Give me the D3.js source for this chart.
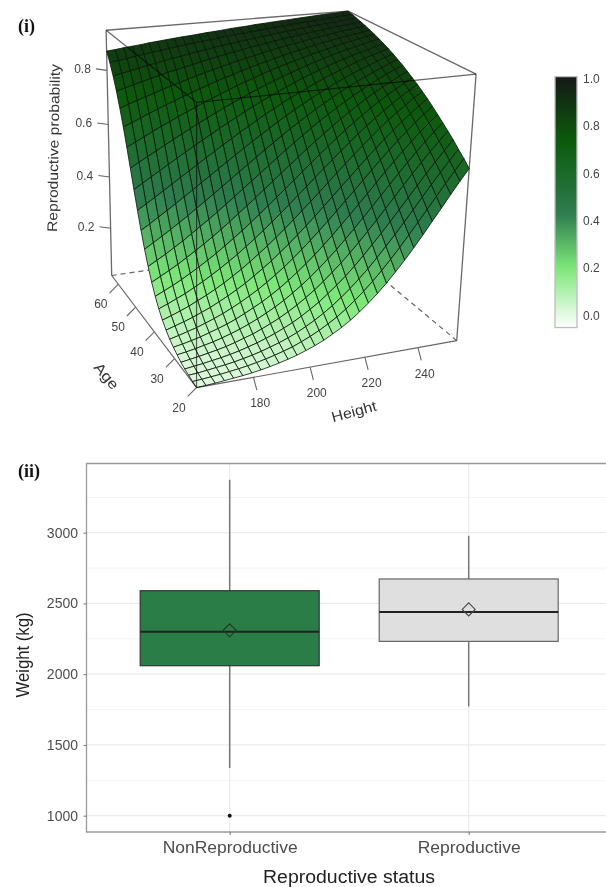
<!DOCTYPE html>
<html><head><meta charset="utf-8"><script src="https://cdn.jsdelivr.net/npm/d3@7"></script>
<style>html,body{margin:0;padding:0;background:#fff}svg{display:block}text{font-family:"Liberation Sans",Arial,sans-serif}</style></head>
<body><svg id="c" width="606" height="887"></svg>
<script>
// Reproductive probability x1000: one row per age node (young to old), one column per height node (short to tall).
// Estimated by eye from the reference surface's edges and colours (smooth fit), not read node by node.
const surfacePermille=[
[10,12,14,17,20,23,27,32,38,45,53,62,73,85,99,116,134,155,179,206,235,267,302,339,378,419,462,504,547,589,629],
[13,15,18,21,25,29,34,40,47,55,64,74,87,101,117,135,155,178,204,232,263,296,332,369,409,449,490,531,572,612,651],
[17,19,23,27,31,36,42,49,57,67,77,89,103,119,137,157,179,204,231,261,292,327,363,400,439,479,519,559,598,635,671],
[21,25,29,34,39,45,52,61,70,81,93,107,122,140,160,181,206,232,260,291,324,359,395,432,470,509,547,585,622,658,692],
[27,32,37,43,49,56,65,75,85,98,112,127,145,164,186,209,235,263,292,324,357,392,428,465,502,539,576,612,646,679,711],
[36,41,47,54,61,70,80,91,104,118,134,151,170,192,215,240,267,296,326,359,392,427,462,498,533,569,603,637,669,700,729],
[46,52,59,67,77,87,98,111,126,142,159,178,199,222,247,273,301,331,362,395,428,462,496,530,565,598,631,662,692,720,747],
[58,66,75,84,95,107,120,135,151,169,188,209,232,256,282,310,339,369,400,432,465,497,530,563,595,627,657,686,714,740,764],
[74,84,94,105,118,131,147,163,181,200,222,244,268,294,320,349,378,408,439,470,502,533,564,595,625,654,682,709,734,758,781],
[94,105,117,130,145,160,177,195,215,236,259,283,308,334,361,390,419,448,478,508,539,568,598,626,654,681,707,731,754,776,796],
[119,132,146,160,177,194,213,233,254,276,300,324,350,377,404,432,461,489,518,547,575,603,630,657,682,706,730,752,773,792,811],
[149,164,179,196,214,233,253,274,297,320,344,369,395,422,449,476,503,531,558,585,611,637,662,686,709,731,752,772,790,808,824],
[185,202,219,237,257,277,298,320,343,367,392,417,442,468,494,520,546,571,597,621,645,669,691,713,734,754,773,790,807,823,837],
[228,246,264,284,304,326,348,370,393,417,441,466,490,515,539,564,588,611,634,657,679,700,720,739,758,775,792,808,823,837,850],
[277,296,316,336,357,378,401,423,446,469,492,515,538,561,584,606,628,650,670,691,710,729,747,764,780,796,810,824,837,850,861],
[332,351,372,392,413,434,456,478,499,521,543,564,586,607,627,647,667,686,705,722,740,756,772,787,801,815,827,839,851,862,872],
[392,411,431,451,472,492,512,533,553,573,593,612,632,650,669,687,704,721,737,752,767,781,795,808,820,832,843,854,864,873,882],
[455,474,493,512,531,550,569,587,605,623,641,658,675,692,708,723,738,753,766,780,793,805,816,828,838,848,858,867,875,883,891],
[520,538,555,572,589,606,623,639,656,671,687,702,716,730,744,757,770,782,794,805,816,826,836,846,855,863,871,879,886,893,900],
[584,600,615,631,646,660,675,689,702,716,729,741,754,766,777,788,799,809,819,828,837,846,854,862,869,877,884,890,896,902,908],
[646,659,672,685,698,710,722,734,745,756,767,778,788,797,807,816,825,833,841,849,856,863,870,877,883,889,895,900,905,910,915],
[703,714,725,735,745,756,765,775,784,793,802,810,818,826,834,841,848,855,861,868,874,879,885,890,896,900,905,910,914,918,922],
[754,763,771,780,788,796,804,811,818,825,832,839,845,851,857,863,869,874,879,884,889,894,898,903,907,911,915,918,922,925,928],
[799,806,812,819,825,831,837,843,848,854,859,864,869,874,878,883,887,891,895,899,903,907,910,914,917,920,923,926,929,932,934],
[838,842,847,852,857,861,865,870,874,878,882,886,889,893,896,900,903,906,909,912,915,918,921,923,926,928,931,933,935,938,940],
[870,873,877,880,883,887,890,893,896,899,901,904,907,909,912,915,917,919,922,924,926,928,930,932,934,936,938,940,941,943,945]
];
const heightTicks=[180,200,220,240],ageTicks=[20,30,40,50,60],probTicks=[0.2,0.4,0.6,0.8],legendTicks=[0,0.2,0.4,0.6,0.8,1];
const heightDomain=[160.5,255],ageDomain=[20,64],probDomain=[0.01,0.945];
const statusNames=["NonReproductive","Reproductive"];
const q1=[2060,2232],q3=[2590,2673],medians=[2300,2440],means=[2310,2458],whiskerLow=[1337,1772],whiskerHigh=[3375,2978],outliers=[1000];
const weightTicks=[1000,1500,2000,2500,3000],weightMinor=[1250,1750,2250,2750,3250];
const colorStops=[-0.05,0.2,0.43,0.74,1.01],colorValues=["#ffffff","#7ee87a","#2e7d4f","#0c5a0c","#151816"];

const svg=d3.select("#c");
const R=surfacePermille.length,C=surfacePermille[0].length;
const surface=surfacePermille.map(r=>r.map(v=>v/1000));
const sx=d3.scaleLinear(heightDomain,[0,1]),sy=d3.scaleLinear(ageDomain,[0,1]),sz=d3.scaleLinear(probDomain,[0,1]);
const ni=d3.scaleLinear([0,C-1],[0,1]),nj=d3.scaleLinear([0,R-1],[0,1]);
const color=d3.scaleLinear(colorStops,colorValues);
const cube=[[0,0,0,196,388],[1,0,0,457,340],[0,1,0,112,275],[1,1,0,339,243],[0,0,1,197,103],[1,0,1,476,74],[0,1,1,106,30],[1,1,1,348,11]];
function solve(){const A=[],b=[];cube.forEach(([x,y,z,u,v])=>{A.push([x,y,z,1,0,0,0,0,-u*x,-u*y,-u*z]);b.push(u);A.push([0,0,0,0,x,y,z,1,-v*x,-v*y,-v*z]);b.push(v);});
 const n=11,M=d3.range(n).map(r=>d3.range(n+1).map(c=>d3.sum(A,(row,k)=>row[r]*(c<n?row[c]:b[k]))));
 for(let c=0;c<n;c++){let p=c;for(let r=c+1;r<n;r++)if(Math.abs(M[r][c])>Math.abs(M[p][c]))p=r;[M[c],M[p]]=[M[p],M[c]];for(let r=0;r<n;r++)if(r!==c){const f=M[r][c]/M[c][c];for(let k=c;k<=n;k++)M[r][k]-=f*M[c][k];}}
 return M.map((r,i)=>r[n]/r[i]);}
const P=solve();
const proj=(x,y,z)=>{const w=P[8]*x+P[9]*y+P[10]*z+1;return[(P[0]*x+P[1]*y+P[2]*z+P[3])/w,(P[4]*x+P[5]*y+P[6]*z+P[7])/w];};
const line=(a,b,o={})=>{const p=proj(...a),q=proj(...b);svg.append("line").attr("x1",p[0]).attr("y1",p[1]).attr("x2",q[0]).attr("y2",q[1]).attr("stroke",o.c||"#666").attr("stroke-width",o.w||1.2).attr("stroke-dasharray",o.d||null).style("mix-blend-mode",o.m||null);};
[[[0,1,0],[1,1,0]],[[1,0,0],[1,1,0]],[[1,1,0],[1,1,1]]].forEach(e=>line(...e,{d:"5,4"}));
[[[0,1,0],[0,1,1]],[[0,1,1],[1,1,1]],[[1,1,1],[1,0,1]],[[1,0,0],[1,0,1]]].forEach(e=>line(...e,{c:"#6a6a6a",w:1.3}));
const cells=[];for(let j=R-2;j>=0;j--)for(let i=C-2;i>=0;i--)cells.push([[i,j],[i+1,j],[i+1,j+1],[i,j+1]]);
const node=([i,j])=>proj(ni(i),nj(j),sz(surface[j][i]));
svg.append("g").selectAll("path").data(cells).join("path").attr("d",c=>"M"+c.map(node).join("L")+"Z").attr("fill",c=>color(d3.mean(c,([i,j])=>surface[j][i]))).attr("stroke","#0a140a").attr("stroke-width",0.8).attr("stroke-linejoin","round");
[[[0,0,0],[0,0,1]],[[0,0,1],[1,0,1]],[[0,0,1],[0,1,1]],[[0,0,0],[1,0,0]],[[0,0,0],[0,1,0]]].forEach(e=>line(...e,{m:"multiply",w:1.2}));
const tl=(t,p,d,l)=>{svg.append("line").attr("x1",p[0]).attr("y1",p[1]).attr("x2",p[0]+d[0]).attr("y2",p[1]+d[1]).attr("stroke","#666").attr("stroke-width",1.1);svg.append("text").attr("x",p[0]+l[0]).attr("y",p[1]+l[1]).attr("text-anchor","middle").attr("dominant-baseline","central").attr("fill","#444").attr("font-size",12).text(t);};
heightTicks.forEach(h=>tl(h,proj(sx(h),0,0),[3.3,12.7],[6.7,26]));
ageTicks.forEach(a=>tl(a,proj(0,sy(a),0),[-8.8,8.8],[-17.5,20]));
probTicks.forEach(v=>tl(v.toFixed(1),proj(0,1,sz(v)),[-11,-1.5],[-24.5,-1]));
const title=(t,x,y,r,f,c,len)=>{const s=svg.append("text").attr("text-anchor","middle").attr("dominant-baseline","central").attr("transform",`translate(${x},${y}) rotate(${r})`).attr("font-size",f).attr("fill",c).text(t);if(len)s.attr("textLength",len).attr("lengthAdjust","spacingAndGlyphs");};
title("Reproductive probability",53.5,148,-89,14,"#333",168);title("Age",106.5,376,50,14.5,"#333",30);title("Height",354,411.5,-15,14.5,"#333",46);
const ly=d3.scaleLinear([0,1],[315.7,79]);
const grad=svg.append("defs").append("linearGradient").attr("id","lg").attr("x1",0).attr("x2",0).attr("y1",1).attr("y2",0);
d3.range(0,1.0001,0.05).forEach(f=>{const v=-0.05+f*1.06;grad.append("stop").attr("offset",f).attr("stop-color",color(v));});
svg.append("rect").attr("x",555).attr("y",ly(1.01)).attr("width",22).attr("height",ly(-0.05)-ly(1.01)).attr("fill","url(#lg)").attr("stroke","#bdbdbd").attr("stroke-width",1.3);
legendTicks.forEach(v=>svg.append("text").attr("x",583).attr("y",ly(v)).attr("dominant-baseline","central").attr("font-size",12).attr("fill","#444").text(v.toFixed(1)));
const lab=(t,y)=>svg.append("text").attr("x",18).attr("y",y).attr("font-weight","bold").attr("font-size",18).attr("fill","#111").style("font-family","'Liberation Serif'").text(t);
lab("(i)",32);lab("(ii)",477);
const py=d3.scaleLinear([1000,3000],[815.7,532.7]);const px=d3.scalePoint(statusNames,[229.7,468.7]);
const pl=86.5,pb=832,pt=463.5,pr=612,bw=179;
const g=svg.append("g");
weightMinor.forEach(v=>g.append("line").attr("x1",pl).attr("x2",pr).attr("y1",py(v)).attr("y2",py(v)).attr("stroke","#f3f3f3"));
weightTicks.forEach(v=>g.append("line").attr("x1",pl).attr("x2",pr).attr("y1",py(v)).attr("y2",py(v)).attr("stroke","#ebebeb").attr("stroke-width",1.2));
statusNames.forEach(n=>g.append("line").attr("x1",px(n)).attr("x2",px(n)).attr("y1",pt).attr("y2",pb).attr("stroke","#ebebeb").attr("stroke-width",1.2));
const fills=["#2a7d47","#dfdfdf"],edges=["#333","#666"],marks=["#1c3a26","#444"];
statusNames.forEach((n,i)=>{const c=px(n);
 g.append("line").attr("x1",c).attr("x2",c).attr("y1",py(whiskerHigh[i])).attr("y2",py(whiskerLow[i])).attr("stroke","#777").attr("stroke-width",1.5);
 g.append("rect").attr("x",c-bw/2).attr("width",bw).attr("y",py(q3[i])).attr("height",py(q1[i])-py(q3[i])).attr("fill",fills[i]).attr("stroke",edges[i]).attr("stroke-width",1.2);
 g.append("line").attr("x1",c-bw/2).attr("x2",c+bw/2).attr("y1",py(medians[i])).attr("y2",py(medians[i])).attr("stroke","#222").attr("stroke-width",2);
 g.append("path").attr("transform",`translate(${c},${py(means[i])})`).attr("d","M0,-6.5L6.5,0L0,6.5L-6.5,0Z").attr("fill","none").attr("stroke",marks[i]).attr("stroke-width",1.1);
});
outliers.forEach(v=>g.append("circle").attr("cx",px(statusNames[0])).attr("cy",py(v)).attr("r",2).attr("fill","#111"));
svg.append("path").attr("d",`M${pr},${pt}H${pl}V${pb}H${pr}`).attr("fill","none").attr("stroke","#9a9a9a").attr("stroke-width",1.3);
const ya=svg.append("g").attr("transform",`translate(${pl},0)`).call(d3.axisLeft(py).tickValues(weightTicks).tickSize(3).tickPadding(5.5).tickFormat(d3.format("d")));
ya.select(".domain").remove();ya.selectAll("line").attr("stroke","#777");ya.selectAll("text").attr("fill","#4d4d4d").attr("font-size",14).style("font-family","'Liberation Sans'");
const xLabelLengths=[135,103];
const xa=svg.append("g").attr("transform",`translate(0,${pb})`).call(d3.axisBottom(px).tickSize(3).tickPadding(7));
xa.select(".domain").remove();xa.selectAll("line").attr("stroke","#777");xa.selectAll("text").attr("fill","#4d4d4d").attr("font-size",16).style("font-family","'Liberation Sans'").attr("textLength",(d,i)=>xLabelLengths[i]).attr("lengthAdjust","spacingAndGlyphs");
title("Weight (kg)",23,655,-90,18,"#222",85);title("Reproductive status",349,876.5,0,18,"#222",172);
</script></body></html>
